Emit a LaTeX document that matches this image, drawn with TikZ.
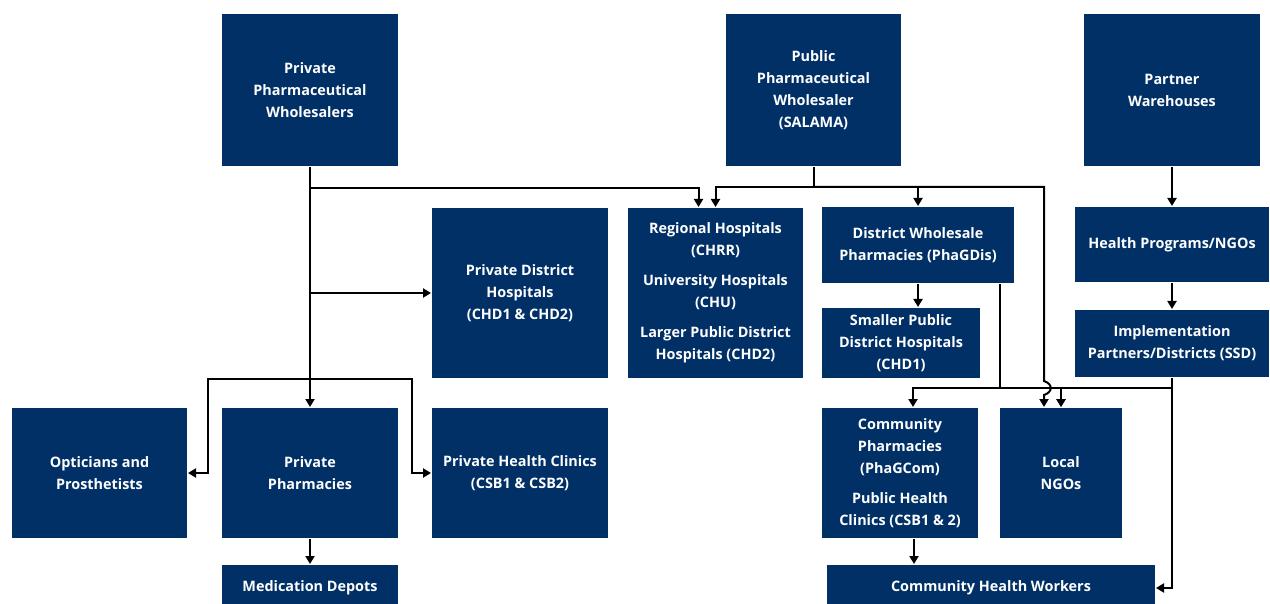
\documentclass[tikz,border=0pt]{standalone}
\usepackage{fontspec}
\setmainfont{Open Sans}
\usetikzlibrary{arrows.meta}
\definecolor{navy}{RGB}{0,48,102}

\begin{document}
\begin{tikzpicture}[x=1pt, y=-1pt, >={Triangle[length=8pt, width=9pt]}, line width=2pt,
    block/.style={fill=navy, text=white, align=center, inner sep=0pt, font=\bfseries\fontsize{14.4}{22}\selectfont},]
    \useasboundingbox (0,0) rectangle (1270,604);
    % suppliers
    \node[block, minimum width=176pt, minimum height=152pt] (ppw) at (310,90) {Private\\Pharmaceutical\\Wholesalers};
    \node[block, minimum width=175pt, minimum height=152pt] (salama) at (813.5,90) {Public\\Pharmaceutical\\Wholesaler\\(SALAMA)};
    \node[block, minimum width=176pt, minimum height=152pt] (pwh) at (1172,90) {Partner\\Warehouses};
    % middle row
    \node[block, minimum width=176pt, minimum height=170pt] (pdh) at (520,293) {Private District\\Hospitals\\(CHD1 \& CHD2)};
    \node[block, minimum width=175pt, minimum height=170pt] (regh) at (715.5,293) {Regional Hospitals\\(CHRR)\\[8pt]University Hospitals\\(CHU)\\[8pt]Larger Public District\\Hospitals (CHD2)};
    \node[block, minimum width=192pt, minimum height=76pt] (dwp) at (918,245) {District Wholesale\\Pharmacies (PhaGDis)};
    \node[block, minimum width=158pt, minimum height=70pt] (sph) at (901,343) {Smaller Public\\District Hospitals\\(CHD1)};
    \node[block, minimum width=194pt, minimum height=75pt] (hp) at (1172,244.5) {Health Programs/NGOs};
    \node[block, minimum width=194pt, minimum height=67pt] (ip) at (1172,343.5) {Implementation\\Partners/Districts (SSD)};
    % lower row
    \node[block, minimum width=176pt, minimum height=130pt] (pph) at (310,473) {Private\\Pharmacies};
    \node[block, minimum width=175pt, minimum height=130pt, left of=pph, node distance=210.5pt] (opt) {Opticians and\\Prosthetists};
    \node[block, minimum width=176pt, minimum height=130pt, right of=pph, node distance=210pt] (phc) {Private Health Clinics\\(CSB1 \& CSB2)};
    \node[block, minimum width=156pt, minimum height=130pt] (comm) at (900,473) {Community\\Pharmacies\\(PhaGCom)\\[8pt]Public Health\\Clinics (CSB1 \& 2)};
    \node[block, minimum width=122pt, minimum height=130pt] (lngo) at (1061,473) {Local\\NGOs};
    \node[block, minimum width=176pt, minimum height=46pt, below of=pph, node distance=115pt] (md) {Medication Depots};
    \node[block, minimum width=328pt, minimum height=46pt] (chw) at (991,588) {Community Health Workers};
    % junctions
    \coordinate (pbus) at (310,188);
    \coordinate (pmid) at (310,293);
    \coordinate (pfork) at (310,379);
    \coordinate (sbus) at (813.5,187);
    \coordinate (hopa) at (1044,381);
    \coordinate (hopb) at (1044,395);
    \coordinate (dbus) at (1000,388);
    \coordinate (ibus) at (1172,388);
    % private side
    \draw[->] (ppw) -- (pph);
    \draw[->] (pbus) -| ([xshift=-17pt]regh.north);
    \draw[->] (pmid) -- (pdh.west);
    \draw[->] (pfork) -| ([xshift=20pt]opt.east) -- (opt.east);
    \draw[->] (pfork) -| ([xshift=-19pt]phc.west) -- (phc.west);
    \draw[->] (pph) -- (md);
    % public side
    \draw[->] (salama.south) -- (sbus) -| (regh.north);
    \draw[->] (sbus) -| (dwp.north);
    \draw[->] (sbus) -| (hopa) .. controls +(9,3) and +(9,-3) .. (hopb) -- ([xshift=-17pt]lngo.north);
    \draw[->] (dwp.south) -- (dwp.south |- sph.north);
    \draw[->] ([xshift=82pt]dwp.south) -- (dbus) -| ([xshift=13pt]comm.north);
    \draw[->] (dbus) -| (lngo.north);
    \draw[->] ([xshift=14pt]comm.south) -- ([xshift=14pt]comm.south |- chw.north);
    % partners
    \draw[->] (pwh) -- (hp);
    \draw[->] (hp) -- (ip);
    \draw[->] (ip.south) -- (ibus) -| (lngo.north);
    \draw[->] (ibus) |- (chw.east);
\end{tikzpicture}
\end{document}
